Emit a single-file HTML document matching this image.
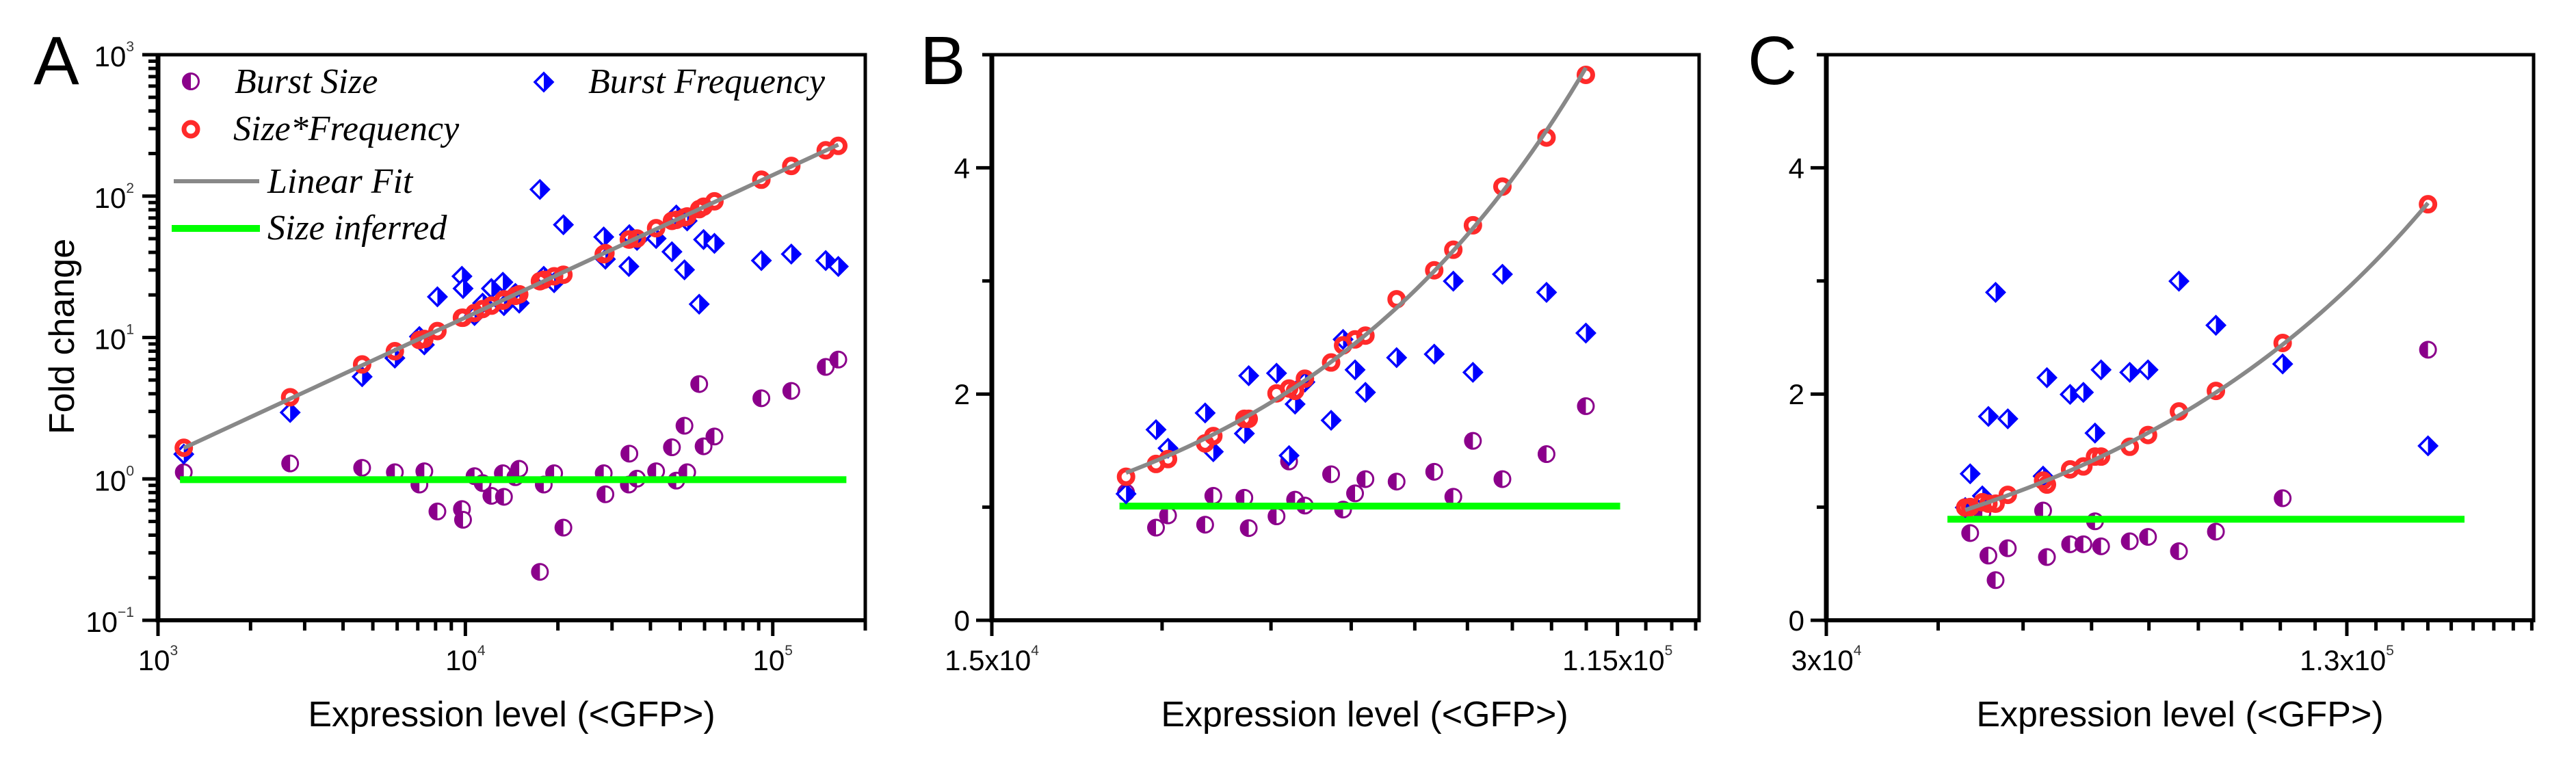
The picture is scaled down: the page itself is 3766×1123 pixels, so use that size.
<!DOCTYPE html>
<html lang="en">
<head>
<meta charset="utf-8">
<title>Fold change versus expression level</title>
<style>
html,body{margin:0;padding:0;background:#fff;width:3766px;height:1123px;overflow:hidden}
svg{display:block;position:absolute;left:0;top:0}
text{font-family:"Liberation Sans",Arial,sans-serif;fill:#000}
.leg{font-family:"Liberation Serif","Times New Roman",serif;font-style:italic;font-size:52px}
.title{font-size:52px}
.letter{font-size:100px}
</style>
</head>
<body>
<svg id="figure" xmlns="http://www.w3.org/2000/svg" width="3766" height="1123" viewBox="0 0 3766 1123">
  <rect x="0" y="0" width="3766" height="1123" fill="#fff"/>
  <text class="letter" x="49" y="123">A</text>
  <text class="letter" x="1345" y="123">B</text>
  <text class="letter" x="2555" y="123">C</text>
  <text class="title" transform="translate(108,492) rotate(-90)" text-anchor="middle">Fold change</text>
  <text class="title" x="748" y="1062" text-anchor="middle">Expression level (&lt;GFP&gt;)</text>
  <text class="title" x="1995" y="1062" text-anchor="middle">Expression level (&lt;GFP&gt;)</text>
  <text class="title" x="3187" y="1062" text-anchor="middle">Expression level (&lt;GFP&gt;)</text>
  <g id="panels"></g>
  <g>
    <g>
      <g transform="translate(279,119)"><circle r="11.5" fill="#fff" stroke="#8b008b" stroke-width="3"/><path d="M0,-11.5A11.5,11.5 0 0 0 0,11.5Z" fill="#8b008b"/></g>
      <text class="leg" x="343" y="136">Burst Size</text>
    </g>
    <g>
      <g transform="translate(795,120)"><path d="M0,-13L13,0L0,13L-13,0Z" fill="#fff" stroke="#0000ff" stroke-width="3.5"/><path d="M0,-13L13,0L0,13Z" fill="#0000ff"/></g>
      <text class="leg" x="860" y="136">Burst Frequency</text>
    </g>
    <g>
      <circle cx="279" cy="189" r="10" fill="none" stroke="#ff2a2a" stroke-width="7"/>
      <text class="leg" x="341" y="205">Size*Frequency</text>
    </g>
    <g>
      <rect x="254" y="262" width="125" height="6" fill="#888"/>
      <text class="leg" x="391" y="282">Linear Fit</text>
    </g>
    <g>
      <rect x="251" y="329" width="129" height="10" fill="#00ff00"/>
      <text class="leg" x="391" y="350">Size inferred</text>
    </g>
  </g>
</svg>
<script>
// ---------- Panel A data ----------
const aExpression = [1213,2691,4614,5896,7087,7353,8110,9745,9826,10710,11380,12150,13240,13350,14540,14970,17480,17990,19440,20840,28190,28550,34030,34160,36170,41740,46990,48550,51620,52670,57640,59560,64610,91820,114900,148700,163400];
const aBurstSize = [1.114,1.286,1.197,1.114,0.912,1.132,0.588,0.612,0.514,1.045,0.934,0.759,1.096,0.747,1.028,1.178,0.220,0.912,1.096,0.452,1.096,0.778,0.912,1.508,1.004,1.132,1.673,0.972,2.377,1.114,4.685,1.700,1.994,3.717,4.190,6.194,6.982];
const aBurstFrequency = [1.496,2.949,5.28,7.15,10.16,8.87,19.4,27.1,22.2,14.3,17.5,22.2,24.6,16.8,20.5,17.5,111.4,27.1,24.4,62.7,51.4,35.8,31.8,53.4,48.6,50.1,40.4,73.5,30.1,66.8,17.2,49.3,46.3,35.0,38.9,35.0,31.8];
const aProduct = [1.66,3.78,6.45,8.0,9.6,9.76,11.1,13.8,13.8,14.9,15.9,16.8,18.2,18.6,19.7,20.2,25.0,25.6,27.1,27.8,38.8,39.5,49.3,49.3,50.1,59.3,66.8,67.9,70.7,71.8,80.9,84.2,91.9,130.6,163.4,210.9,226.6];
const aInferredLevel = 0.988;
const aInferredRange = [1179,173600];
const aXMajorTicks = [1000,10000,100000];
const aXMinorTicks = [2000,3000,4000,5000,6000,7000,8000,9000,20000,30000,40000,50000,60000,70000,80000,90000,200000];
const aXTickBases = ['10','10','10'];
const aXTickExponents = ['3','4','5'];
const aYMajorTicks = [0.1,1,10,100,1000];
const aYMinorTicks = [0.2,0.3,0.4,0.5,0.6,0.7,0.8,0.9,2,3,4,5,6,7,8,9,20,30,40,50,60,70,80,90,200,300,400,500,600,700,800,900];
const aYTickBases = ['10','10','10','10','10'];
const aYTickExponents = ['\u22121','0','1','2','3'];

// ---------- Panel B data ----------
const bExpression = [23220,25600,26620,30040,30850,34130,34620,37900,39480,40260,41570,45270,47070,48940,50620,56030,63330,67390,71830,79070,91280,103750];
const bBurstSize = [1.13,0.819,0.927,0.845,1.10,1.083,0.815,0.919,1.404,1.066,1.014,1.291,0.979,1.122,1.248,1.226,1.313,1.092,1.586,1.248,1.469,1.893];
const bBurstFrequency = [1.118,1.685,1.521,1.833,1.490,1.651,2.162,2.184,1.456,1.911,2.106,1.768,2.483,2.214,2.015,2.322,2.353,2.998,2.192,3.059,2.899,2.539];
const bProduct = [1.269,1.382,1.425,1.564,1.629,1.781,1.781,2.006,2.049,2.028,2.136,2.279,2.431,2.483,2.517,2.838,3.094,3.276,3.492,3.834,4.268,4.822];
const bInferredLevel = 1.01;
const bInferredRange = [22730,116000];
const bXMajorTicks = [15000,115000];
const bXMinorTicks = [26111,37222,48333,59444,70556,81667,92778,103889,126111,137222,148333];
const bXTickBases = ['1.5x10','1.15x10'];
const bXTickExponents = ['4','5'];
const bYMajorTicks = [0,2,4];
const bYMinorTicks = [1,3,5];
const bYTickLabels = ['0','2','4'];

// ---------- Panel C data ----------
const cExpression = [44370,44990,46560,47360,48330,50020,55250,55850,59620,61890,63950,65050,70530,74250,81010,89900,108500,163400];
const cBurstSize = [1.0,0.771,0.95,0.572,0.355,0.637,0.970,0.559,0.672,0.672,0.875,0.654,0.698,0.737,0.611,0.784,1.079,2.392];
const cBurstFrequency = [0.997,1.295,1.10,1.802,2.899,1.781,1.274,2.145,1.997,2.015,1.655,2.214,2.192,2.214,2.998,2.608,2.266,1.542];
const cProduct = [0.997,1.001,1.044,1.031,1.031,1.109,1.235,1.200,1.334,1.360,1.447,1.447,1.534,1.638,1.846,2.028,2.452,3.678];
const cInferredLevel = 0.893;
const cInferredRange = [42200,181100];
const cXMajorTicks = [30000,130000];
const cXMinorTicks = [41111,52222,63333,74444,85556,96667,107778,118889,141111,152222,163333,174444,185556,196667,207778,218889];
const cXTickBases = ['3x10','1.3x10'];
const cXTickExponents = ['4','5'];
const cYMajorTicks = [0,2,4];
const cYMinorTicks = [1,3,5];
const cYTickLabels = ['0','2','4'];

// ---------- Layout (not data) ----------
const NS = 'http://www.w3.org/2000/svg';
const TOP = 80, BOTTOM = 907, WIDE = 1034;
const root = document.getElementById('panels');

function svgEl(tag, attrs, parent) {
  const el = document.createElementNS(NS, tag);
  for (const k in attrs) el.setAttribute(k, attrs[k]);
  parent.appendChild(el);
  return el;
}
function logScale(d0, d1, p0, p1) {
  const a = Math.log10(d0), b = Math.log10(d1);
  return v => p0 + (Math.log10(v) - a) / (b - a) * (p1 - p0);
}
function linScale(d0, d1, p0, p1) {
  return v => p0 + (v - d0) / (d1 - d0) * (p1 - p0);
}
function regress(xs, ys) {
  const n = xs.length;
  let sx = 0, sy = 0, sxx = 0, sxy = 0;
  for (let i = 0; i < n; i++) { sx += xs[i]; sy += ys[i]; sxx += xs[i] * xs[i]; sxy += xs[i] * ys[i]; }
  const slope = (n * sxy - sx * sy) / (n * sxx - sx * sx);
  return { slope: slope, intercept: (sy - slope * sx) / n };
}
function fitSamples(xs, ys, logY) {
  const lx = logY ? xs.map(Math.log10) : xs;
  const ly = logY ? ys.map(Math.log10) : ys;
  const r = regress(lx, ly);
  const lo = Math.log10(Math.min.apply(null, xs)), hi = Math.log10(Math.max.apply(null, xs));
  const out = [];
  for (let i = 0; i <= 60; i++) {
    const x = Math.pow(10, lo + (hi - lo) * i / 60);
    const y = logY ? Math.pow(10, r.intercept + r.slope * Math.log10(x)) : r.intercept + r.slope * x;
    out.push([x, y]);
  }
  return out;
}

function drawPanel(p) {
  const g = svgEl('g', {}, root);
  
  
  const left = p.left, right = p.left + WIDE;
  const X = p.x, Y = p.y;

  // burst size markers
  const sizeG = svgEl('g', {}, g);
  
  
  p.expression.forEach((v, i) => {
    const m = svgEl('g', { transform: 'translate(' + X(v) + ',' + Y(p.size[i]) + ')' }, sizeG);
    
    
    svgEl('circle', { r: 11.5, fill: '#fff', stroke: '#8b008b', 'stroke-width': 3 }, m);
    svgEl('path', { d: 'M0,-11.5A11.5,11.5 0 0 0 0,11.5Z', fill: '#8b008b' }, m);
  });

  // inferred size line
  const green = svgEl('line', { x1: X(p.inferredRange[0]), x2: X(p.inferredRange[1]), y1: Y(p.inferred), y2: Y(p.inferred), stroke: '#00ff00', 'stroke-width': 10 }, g);
  
  

  // burst frequency markers
  const freqG = svgEl('g', {}, g);
  
  
  p.expression.forEach((v, i) => {
    const m = svgEl('g', { transform: 'translate(' + X(v) + ',' + Y(p.freq[i]) + ')' }, freqG);
    
    
    svgEl('path', { d: 'M0,-13L13,0L0,13L-13,0Z', fill: '#fff', stroke: '#0000ff', 'stroke-width': 3.5 }, m);
    svgEl('path', { d: 'M0,-13L13,0L0,13Z', fill: '#0000ff' }, m);
  });

  // product markers
  const prodG = svgEl('g', {}, g);
  
  
  p.expression.forEach((v, i) => {
    const c = svgEl('circle', { cx: X(v), cy: Y(p.prod[i]), r: 10, fill: 'none', stroke: '#ff2a2a', 'stroke-width': 7 }, prodG);
    
    
  });

  // fit
  const pts = fitSamples(p.expression, p.prod, p.logY).map(q => X(q[0]) + ',' + Y(q[1])).join(' ');
  const fit = svgEl('polyline', { points: pts, fill: 'none', stroke: '#888', 'stroke-width': 6 }, g);
  
  

  // frame
  const axes = svgEl('g', { stroke: '#000', fill: 'none' }, g);
  
  
  const topLine = svgEl('line', { x1: left, x2: right + 2.5, y1: TOP, y2: TOP, 'stroke-width': 5 }, axes);
  
  
  const rightLine = svgEl('line', { x1: right, x2: right, y1: TOP, y2: BOTTOM + 3, 'stroke-width': 5 }, axes);
  
  
  const bottomLine = svgEl('line', { x1: left, x2: right + 2.5, y1: BOTTOM, y2: BOTTOM, 'stroke-width': 6 }, axes);
  
  
  const leftLine = svgEl('line', { x1: left, x2: left, y1: TOP - 2.5, y2: BOTTOM + 3, 'stroke-width': 7 }, axes);
  
  

  // ticks
  p.xMajor.forEach((v, i) => {
    const t = svgEl('line', { x1: X(v), x2: X(v), y1: BOTTOM, y2: BOTTOM + 23, 'stroke-width': 5 }, axes);
    
    
    const label = svgEl('text', { x: X(v), y: 980, 'text-anchor': 'middle', 'font-size': 42, stroke: 'none' }, g);
    
    
    const base = svgEl('tspan', {}, label);
    base.textContent = p.xBases[i];
    const exp = svgEl('tspan', { dy: -22, 'font-size': 21, fill: '#333' }, label);
    exp.textContent = p.xExps[i];
  });
  p.xMinor.forEach(v => {
    const t = svgEl('line', { x1: X(v), x2: X(v), y1: BOTTOM, y2: BOTTOM + 15, 'stroke-width': 5 }, axes);
    
    
  });
  p.yMajor.forEach((v, i) => {
    const t = svgEl('line', { x1: left - 23, x2: left, y1: Y(v), y2: Y(v), 'stroke-width': 5 }, axes);
    
    
    const label = svgEl('text', { x: left + p.yLabelDx, y: Y(v) + p.yLabelDy, 'text-anchor': 'end', 'font-size': 42, stroke: 'none' }, g);
    
    
    const base = svgEl('tspan', {}, label);
    base.textContent = p.yBases[i];
    if (p.yExps) {
      const exp = svgEl('tspan', { dy: -22, 'font-size': 21, fill: '#333' }, label);
      exp.textContent = p.yExps[i];
    }
  });
  p.yMinor.forEach(v => {
    const t = svgEl('line', { x1: left - 14, x2: left, y1: Y(v), y2: Y(v), 'stroke-width': 5 }, axes);
    
    
  });
}

drawPanel({
  id: 'panel-a', left: 231, logY: true,
  x: logScale(1000, 200000, 231, 231 + WIDE),
  y: logScale(0.1, 1000, BOTTOM, TOP),
  expression: aExpression, size: aBurstSize, freq: aBurstFrequency, prod: aProduct,
  inferred: aInferredLevel, inferredRange: aInferredRange,
  xMajor: aXMajorTicks, xMinor: aXMinorTicks, xBases: aXTickBases, xExps: aXTickExponents,
  yMajor: aYMajorTicks, yMinor: aYMinorTicks, yBases: aYTickBases, yExps: aYTickExponents,
  yLabelDx: -35, yLabelDy: 17
});
drawPanel({
  id: 'panel-b', left: 1450, logY: false,
  x: logScale(15000, 150000, 1450, 1450 + WIDE),
  y: linScale(0, 5, BOTTOM, TOP),
  expression: bExpression, size: bBurstSize, freq: bBurstFrequency, prod: bProduct,
  inferred: bInferredLevel, inferredRange: bInferredRange,
  xMajor: bXMajorTicks, xMinor: bXMinorTicks, xBases: bXTickBases, xExps: bXTickExponents,
  yMajor: bYMajorTicks, yMinor: bYMinorTicks, yBases: bYTickLabels, yExps: null,
  yLabelDx: -32, yLabelDy: 15
});
drawPanel({
  id: 'panel-c', left: 2670, logY: false,
  x: logScale(30000, 220000, 2670, 2670 + WIDE),
  y: linScale(0, 5, BOTTOM, TOP),
  expression: cExpression, size: cBurstSize, freq: cBurstFrequency, prod: cProduct,
  inferred: cInferredLevel, inferredRange: cInferredRange,
  xMajor: cXMajorTicks, xMinor: cXMinorTicks, xBases: cXTickBases, xExps: cXTickExponents,
  yMajor: cYMajorTicks, yMinor: cYMinorTicks, yBases: cYTickLabels, yExps: null,
  yLabelDx: -32, yLabelDy: 15
});
</script>
</body>
</html>
